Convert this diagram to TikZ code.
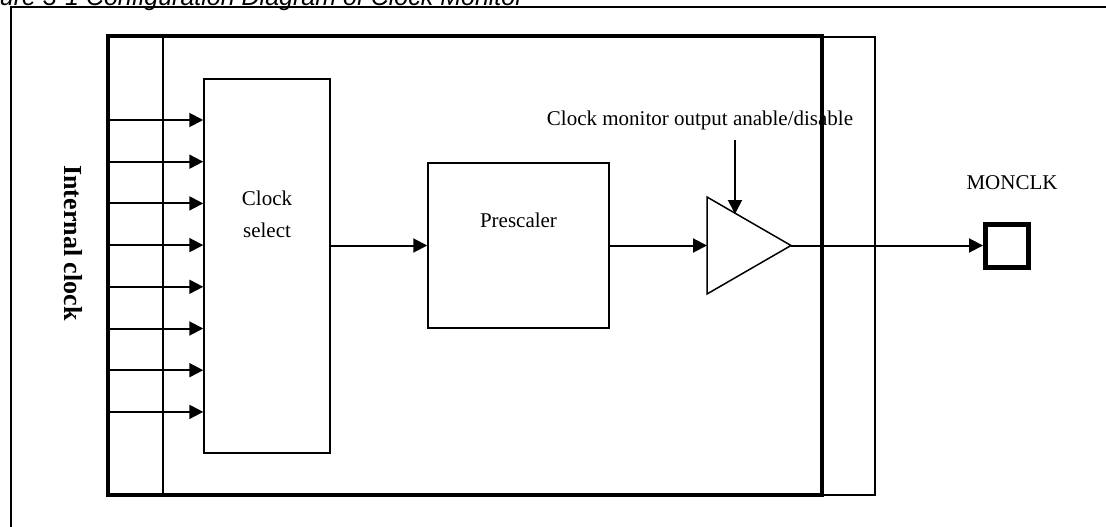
\documentclass[tikz,border=0pt]{standalone}
\usepackage{fontspec}
\setmainfont{Liberation Serif}
\setsansfont{Liberation Sans}
\usetikzlibrary{arrows.meta}

\begin{document}
\begin{tikzpicture}[x=1pt,y=-1pt,>={Triangle[length=14pt,width=14pt]},font=\fontsize{21}{32}\selectfont,
    blk/.style={draw,line width=1.5pt,inner sep=0pt},
    sig/.style={->,line width=2pt}]
    \useasboundingbox (0,0) rectangle (1106,527);
    \node[anchor=base west,inner sep=0pt,font=\sffamily\itshape\fontsize{25}{30}\selectfont] (title) at (-35,5.5) {Figure 3-1 Configuration Diagram of Clock Monitor};
    \draw[line width=1.5pt] (11,530) -- (11,7);
    \draw[line width=2.5pt] (10.25,7) -- (1110,7);
    \draw[line width=1.5pt] (822,37) rectangle (875,495);
    \node[fill=white,inner xsep=21pt,inner ysep=10pt] (enlbl) at (700,120) {Clock monitor output anable/disable};
    \draw[line width=4.5pt] (108,36) rectangle (822,495);
    \draw[line width=1.5pt] (163,36) -- (163,495);
    \node[rotate=-90,font=\bfseries\fontsize{26}{30}\selectfont] (intclk) at (73,243) {Internal clock};
    \node[blk,minimum width=126pt,minimum height=374pt] (sel) at (267,266) {};
    \node[align=center] (sellbl) at (267,214) {Clock\\select};
    \node[blk,minimum width=181pt,minimum height=165pt] (pre) at (518.5,245.5) {};
    \node (prelbl) at (518.5,220) {Prescaler};
    \coordinate (bufa) at (707,197);
    \coordinate (bufb) at (707,294);
    \coordinate (bufo) at (791,245.5);
    \coordinate (bufin) at (707,245.5);
    \coordinate (enin) at (735,214);
    \draw[line width=1.5pt] (bufa) -- (bufo) -- (bufb) -- cycle;
    \node[draw,line width=5pt,minimum size=43pt,inner sep=0pt] (pad) at (1007,245.5) {};
    \node (padlbl) at (1012,183) {MONCLK};
    \foreach \i in {0,...,7} {
        \coordinate (ck\i) at (107,{120+41.7*\i});
        \draw[sig] (ck\i) -- (ck\i -| sel.west);
    }
    \draw[sig] (sel.east |- pre.west) -- (pre.west);
    \draw[sig] (pre.east) -- (bufin);
    \draw[sig] (enlbl.south -| enin) -- (enin);
    \draw[sig] (bufo) -- (pad.west);
\end{tikzpicture}
\end{document}
